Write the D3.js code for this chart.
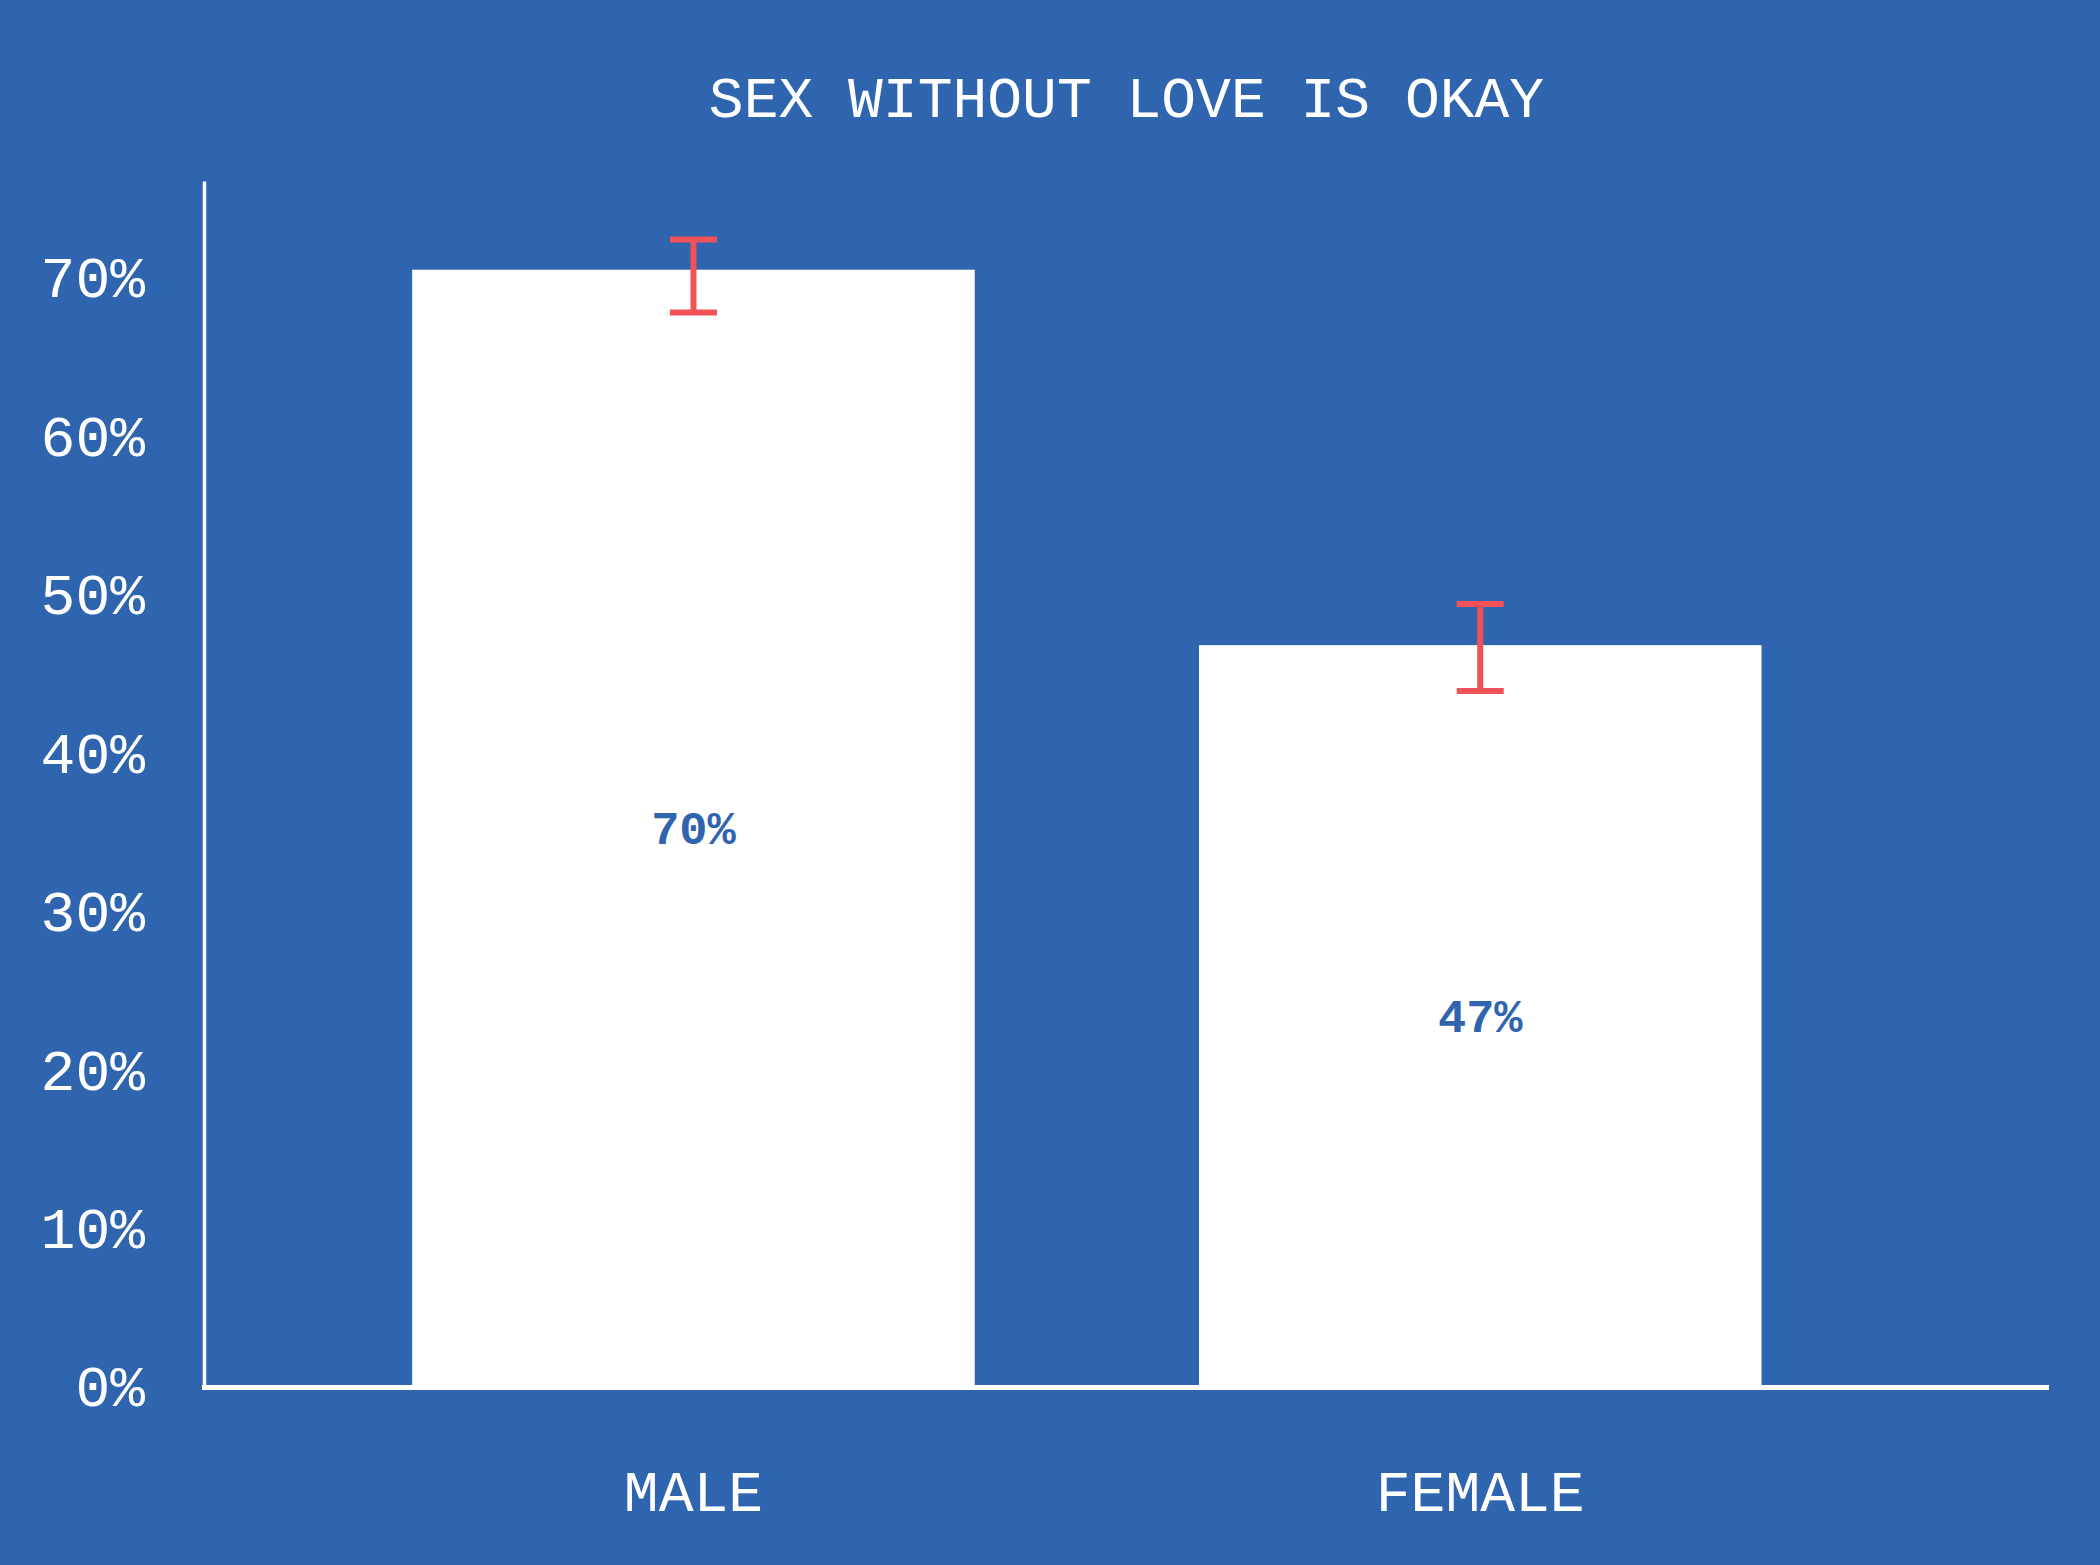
<!DOCTYPE html>
<html>
<head>
<meta charset="utf-8">
<script src="https://cdn.jsdelivr.net/npm/d3@7"></script>
<style>
  html, body { margin: 0; padding: 0; background: #2F64AF; }
  svg { display: block; }
</style>
</head>
<body>
<svg id="chart"></svg>
<script>
const categories = ['MALE', 'FEMALE'];
const values = [0.704, 0.467];
const errLow = [0.677, 0.438];
const errHigh = [0.723, 0.493];
const yTicks = [0, 0.1, 0.2, 0.3, 0.4, 0.5, 0.6, 0.7];
const yMax = 0.76;
const title = 'SEX WITHOUT LOVE IS OKAY';

const width = 2100;
const height = 1565;
const margin = { top: 181, right: 51, bottom: 180, left: 204 };
const bg = '#2F64AF';
const red = '#F05257';
const font = '"Liberation Mono", "DejaVu Sans Mono", monospace';

const svg = d3.select('#chart').attr('width', width).attr('height', height);
svg.append('rect').attr('width', width).attr('height', height).attr('fill', bg);

const x = d3.scaleBand()
  .domain(categories)
  .range([margin.left, width - margin.right])
  .paddingInner(0.285)
  .paddingOuter(0.315)
  .align(0.42);

const y = d3.scaleLinear()
  .domain([0, yMax])
  .range([height - margin.bottom, margin.top]);

const rows = categories.map((c, i) => ({ c, v: values[i], lo: errLow[i], hi: errHigh[i] }));

// title, centred over the plot area
svg.append('text')
  .attr('x', (margin.left + width - margin.right) / 2)
  .attr('y', 117)
  .attr('text-anchor', 'middle')
  .attr('fill', '#fff')
  .style('font-family', font)
  .style('font-size', '58px')
  .text(title);

// bars
svg.append('g')
  .selectAll('rect')
  .data(rows)
  .join('rect')
  .attr('x', d => x(d.c))
  .attr('y', d => y(d.v))
  .attr('width', x.bandwidth())
  .attr('height', d => y(0) - y(d.v))
  .attr('fill', '#fff');

// value labels in the middle of the bars
svg.append('g')
  .selectAll('text')
  .data(rows)
  .join('text')
  .attr('x', d => x(d.c) + x.bandwidth() / 2)
  .attr('y', d => (y(0) + y(d.v)) / 2)
  .attr('dy', '0.35em')
  .attr('text-anchor', 'middle')
  .attr('fill', bg)
  .style('font-family', font)
  .style('font-size', '47px')
  .style('font-weight', 'bold')
  .text(d => d3.format('.0%')(d.v));

// error bars
const capW = 47;
const eb = svg.append('g')
  .attr('stroke', red)
  .attr('stroke-width', 6)
  .selectAll('g')
  .data(rows)
  .join('g')
  .attr('transform', d => `translate(${x(d.c) + x.bandwidth() / 2},0)`);
eb.append('line').attr('y1', d => y(d.lo)).attr('y2', d => y(d.hi));
eb.append('line').attr('x1', -capW / 2).attr('x2', capW / 2).attr('y1', d => y(d.hi)).attr('y2', d => y(d.hi));
eb.append('line').attr('x1', -capW / 2).attr('x2', capW / 2).attr('y1', d => y(d.lo)).attr('y2', d => y(d.lo));

// y axis
const yAxis = svg.append('g')
  .attr('transform', `translate(${margin.left},0)`)
  .call(d3.axisLeft(y).tickValues(yTicks).tickFormat(d3.format('.0%')).tickSize(0).tickPadding(59));
yAxis.select('.domain').attr('stroke', '#fff').attr('stroke-width', 3.5);
yAxis.selectAll('text')
  .attr('fill', '#fff')
  .attr('dy', '0.36em')
  .style('font-family', font)
  .style('font-size', '58px');

// baseline
svg.append('line')
  .attr('x1', margin.left - 2)
  .attr('x2', width - margin.right)
  .attr('y1', y(0) + 2.5)
  .attr('y2', y(0) + 2.5)
  .attr('stroke', '#fff')
  .attr('stroke-width', 5);

// x axis labels
const xAxis = svg.append('g')
  .attr('transform', `translate(0,${y(0)})`)
  .call(d3.axisBottom(x).tickSize(0).tickPadding(85));
xAxis.select('.domain').remove();
xAxis.selectAll('text')
  .attr('fill', '#fff')
  .attr('dy', '0.71em')
  .style('font-family', font)
  .style('font-size', '58px');
</script>
</body>
</html>
